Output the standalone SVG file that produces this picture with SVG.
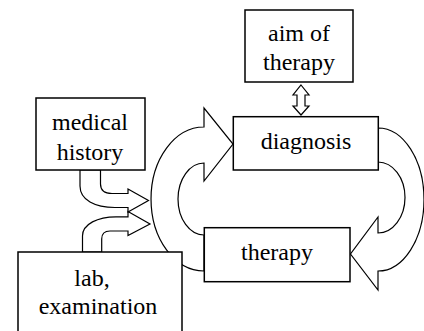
<svg xmlns="http://www.w3.org/2000/svg" width="424" height="331" viewBox="0 0 424 331">
<style>
.box{fill:#fff;stroke:#000;stroke-width:1.5}
.arr{fill:#fff;stroke:#000;stroke-width:1.2;stroke-linejoin:miter}
.t{font-family:"Liberation Serif",serif;font-size:24px;fill:#000;text-anchor:middle}
.d{font-family:"DejaVu Serif",serif}
</style>
<rect width="424" height="331" fill="#fff"/>
<g id="connectors">
<path class="arr" d="M204,271 A53,72 0 0 1 204,127 L204,108 L233,144 L204,181 L204,163 A26,36 0 0 0 204,235 Z"/>
<path class="arr" d="M378,128 A46,71.5 0 0 1 378,271 L378,290 L350.5,254 L378,217 L378,233 A27,35.5 0 0 0 378,162 Z"/>
<path class="arr" d="M80,170 V186 C80,200 95,207.5 115,207.5 H128 V212 L148.5,200.5 L128,189 V193.5 H112 C104,193.5 100.5,190 100.5,184 V170 Z"/>
<path class="arr" d="M82.5,252 V236 C82.5,224 98,216.8 116,216.8 H128 V211.5 L150,224 L128,235.5 V231 H110 C104.5,231 101.7,234 101.7,239 V252 Z"/>
<polygon class="arr" points="301,85 309,95 305,95 305,106 309,106 301,115 293,106 297,106 297,95 293,95"/>
</g>
<g id="aim-of-therapy">
<rect class="box" x="245" y="10" width="108" height="72"/>
<text class="t" x="299" y="41" font-family="Liberation Serif">aim of</text>
<text class="t" x="299" y="70" font-family="Liberation Serif">therapy</text>
</g>
<g id="medical-history">
<rect class="box" x="36" y="98" width="109" height="72"/>
<text class="t" x="90" y="129.5" font-family="Liberation Serif">medical</text>
<text class="t" x="90" y="159.5" font-family="Liberation Serif">history</text>
</g>
<g id="diagnosis">
<rect class="box" x="233.3" y="116.7" width="145" height="53.3"/>
<text class="t" x="306" y="148.5" font-family="Liberation Serif">diagnosis</text>
</g>
<g id="therapy">
<rect class="box" x="204.3" y="227.7" width="145.7" height="54"/>
<text class="t" x="277" y="259.5" font-family="Liberation Serif">therapy</text>
</g>
<g id="lab-examination">
<rect class="box" x="18" y="252" width="164" height="100"/>
<text class="t" x="92" y="286" font-family="Liberation Serif">lab,</text>
<text class="t" x="98" y="313.5" font-family="Liberation Serif">examination</text>
</g>
</svg>
